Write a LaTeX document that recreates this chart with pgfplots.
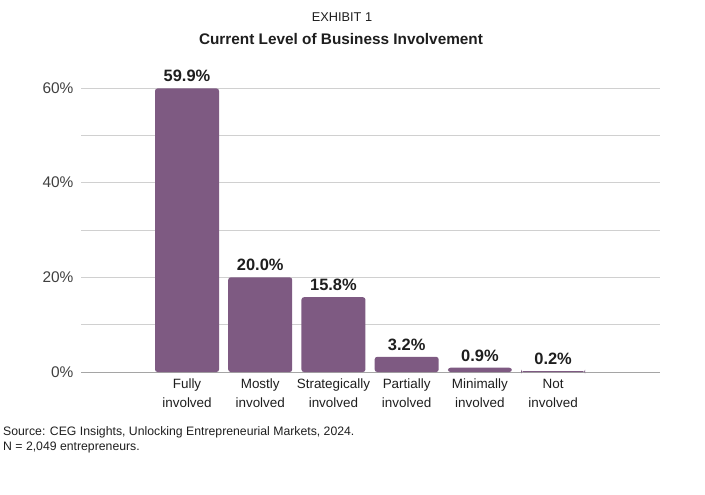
\documentclass[border=0pt]{standalone}
\usepackage{fontspec}
\setmainfont{Liberation Sans}
\usepackage{pgfplots}
\pgfplotsset{compat=1.18}

\definecolor{barpurple}{RGB}{126,90,130}
\definecolor{gridgray}{RGB}{208,208,208}
\definecolor{axisgray}{RGB}{165,165,165}
\definecolor{txt}{RGB}{30,30,30}

\begin{document}
\begin{tikzpicture}
\path[use as bounding box] (0bp,0bp) rectangle (705bp,-495bp);
% titles
\node[font=\fontsize{12.8}{14}\selectfont, text=txt] at (342bp,-17bp) {EXHIBIT 1};
\node[font=\fontsize{15.4}{17}\selectfont\bfseries, text=txt] at (341bp,-39bp) {Current Level of Business Involvement};
% source
\node[anchor=west, align=left, inner sep=0pt, text=txt,
      font=\fontsize{12.3}{15}\selectfont] at (3bp,-440bp)
  {Source: CEG Insights, Unlocking Entrepreneurial Markets, 2024.\\N = 2,049 entrepreneurs.};

\begin{axis}[
  at={(81bp,-372bp)}, anchor=south west,
  scale only axis, width=579bp, height=284bp,
  ybar, bar width=64bp,
  xmin=-1.448, xmax=6.46, ymin=0, ymax=60,
  axis lines=left,
  x axis line style={draw=axisgray, line width=0.9bp, -},
  y axis line style={draw=none},
  major tick length=0pt, minor tick length=0pt,
  ytick={0,20,40,60}, minor ytick={10,30,50},
  ymajorgrids, yminorgrids,
  major grid style={draw=gridgray, line width=0.9bp},
  minor grid style={draw=gridgray, line width=0.9bp},
  yticklabel={\pgfmathprintnumber{\tick}\%},
  yticklabel style={font=\fontsize{15.5}{17}\selectfont, text=txt!85, xshift=-4bp},
  /pgf/number format/assume math mode=true,
  xtick=data,
  xticklabels={{\strut Fully\\\strut involved},{\strut Mostly\\\strut involved},{\strut Strategically\\\strut involved},{\strut Partially\\\strut involved},{\strut Minimally\\\strut involved},{\strut Not\\\strut involved}},
  xticklabel style={align=center, font=\fontsize{13.5}{19}\selectfont, text=txt, anchor=north, yshift=0bp},
  nodes near coords={\pgfmathprintnumber[fixed,fixed zerofill,precision=1]{\pgfplotspointmeta}\%},
  every node near coord/.append style={font=\fontsize{16.5}{18}\selectfont\bfseries, text=txt, yshift=3bp},
  clip=false,
]
\addplot[fill=barpurple, draw=none, rounded corners=2.5bp] coordinates {
  (0,59.9) (1,20.0) (2,15.8) (3,3.2) (4,0.9) (5,0.2)
};
\end{axis}
\end{tikzpicture}
\end{document}
